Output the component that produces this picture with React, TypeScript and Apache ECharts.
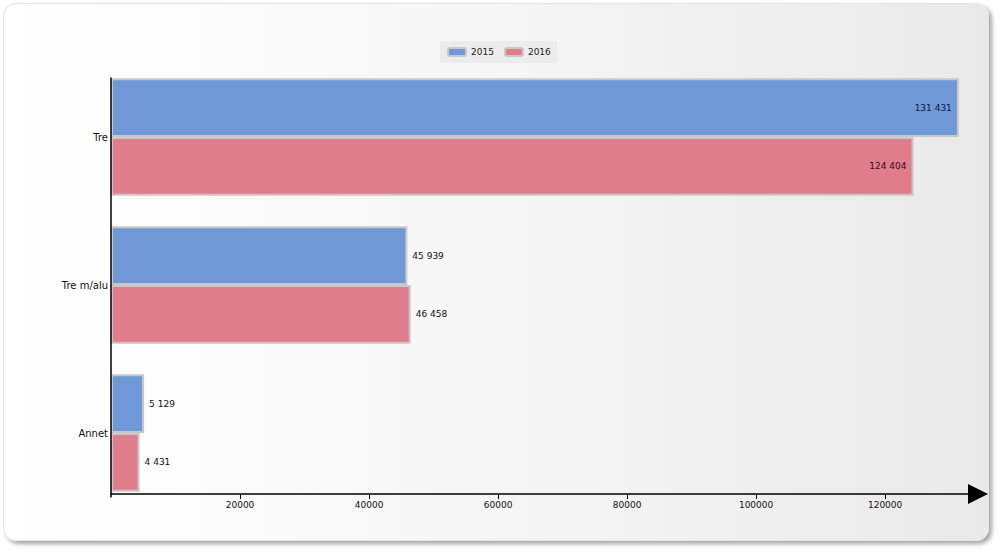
import React, { useEffect, useRef } from "react";
import * as echarts from "echarts";

const categories = ["Tre", "Tre m/alu", "Annet"];
const seriesNames = ["2015", "2016"];
const values2015 = [131431, 45939, 5129];
const values2016 = [124404, 46458, 4431];
const insideLabelCategories = ["Tre"];
const axisMax = 134400;
const tickStep = 20000;

const fmt = (v: number) => String(v).replace(/\B(?=(\d{3})+(?!\d))/g, " ");

export default function App() {
  const ref = useRef<HTMLDivElement>(null);
  useEffect(() => {
    if (!ref.current) return;
    const chart = echarts.init(ref.current, null, { renderer: "svg" });
    const mk = (vals: number[], labelColor: string) =>
      vals.map((v, i) => {
        const inside = insideLabelCategories.includes(categories[i]);
        return {
          value: v,
          label: {
            position: inside ? "insideRight" : "right",
            distance: inside ? 7 : 5,
            color: inside ? labelColor : "#111",
          },
        };
      });
    const labelCfg = {
      show: true,
      fontSize: 9,
      fontFamily: "DejaVu Sans",
      formatter: (p: any) => fmt(p.value),
    };
    chart.setOption({
      animation: false,
      textStyle: { fontFamily: "DejaVu Sans" },
      legend: {
        top: 41,
        left: 440,
        data: seriesNames,
        backgroundColor: "#ececec",
        padding: [6, 6, 6, 7],
        itemWidth: 18,
        itemHeight: 8,
        itemGap: 10,
        textStyle: { fontSize: 9, color: "#222", fontFamily: "DejaVu Sans" },
      },
      grid: [
        { left: 111, top: 63, width: 867, height: 444, containLabel: false },
        { left: 111, top: 78, width: 867, height: 419, containLabel: false },
      ],
      xAxis: [
        {
          type: "value",
          gridIndex: 0,
          min: 0,
          max: axisMax,
          interval: tickStep,
          show: false,
        },
        {
          type: "value",
          gridIndex: 1,
          min: 0,
          max: axisMax,
          interval: tickStep,
          offset: -3,
          splitLine: { show: false },
          axisLine: {
            show: true,
            lineStyle: { color: "#000", width: 1.5 },
            symbol: ["none", "triangle"],
            symbolSize: [20, 20],
          },
          axisTick: { show: true, length: 5, lineStyle: { color: "#000" } },
          axisLabel: {
            showMinLabel: false,
            showMaxLabel: false,
            fontSize: 9,
            color: "#111",
            margin: 6,
            fontFamily: "DejaVu Sans",
            formatter: (v: number) => String(v),
          },
          z: 5,
        },
      ],
      yAxis: [
        {
          type: "category",
          gridIndex: 0,
          data: categories,
          inverse: true,
          axisLine: { show: false },
          axisTick: { show: false },
          axisLabel: { fontSize: 10, color: "#111", margin: 3, fontFamily: "DejaVu Sans" },
        },
        {
          type: "value",
          gridIndex: 1,
          axisLine: { show: true, lineStyle: { color: "#000", width: 1.5 } },
          axisTick: { show: false },
          axisLabel: { show: false },
          splitLine: { show: false },
          z: 5,
        },
      ],
      series: [
        {
          name: seriesNames[0],
          type: "bar",
          xAxisIndex: 0,
          yAxisIndex: 0,
          data: mk(values2015, "#0a1a4a"),
          barGap: "0%",
          barCategoryGap: "20.5%",
          itemStyle: { color: "#6f98d6", borderColor: "#c8c8c8", borderWidth: 2 },
          label: labelCfg,
        },
        {
          name: seriesNames[1],
          type: "bar",
          xAxisIndex: 0,
          yAxisIndex: 0,
          data: mk(values2016, "#3a0a10"),
          barGap: "0%",
          barCategoryGap: "20.5%",
          itemStyle: { color: "#e07d8c", borderColor: "#c8c8c8", borderWidth: 2 },
          label: labelCfg,
        },
      ],
    });
    return () => chart.dispose();
  }, []);
  return (
    <div style={{ position: "fixed", left: 0, top: 0, width: 1000, height: 550, background: "#fff" }}>
      <div
        style={{
          position: "absolute",
          left: 3,
          top: 3,
          width: 986,
          height: 538,
          borderRadius: 13,
          background: "linear-gradient(to right, #ffffff 0%, #f6f6f6 50%, #e9e9e9 100%)",
          boxShadow: "3px 3px 4px rgba(0,0,0,0.35)",
          border: "1px solid #e4e4e4",
          boxSizing: "border-box",
        }}
      />
      <div ref={ref} style={{ position: "absolute", left: 0, top: 0, width: 1000, height: 550 }} />
    </div>
  );
}
